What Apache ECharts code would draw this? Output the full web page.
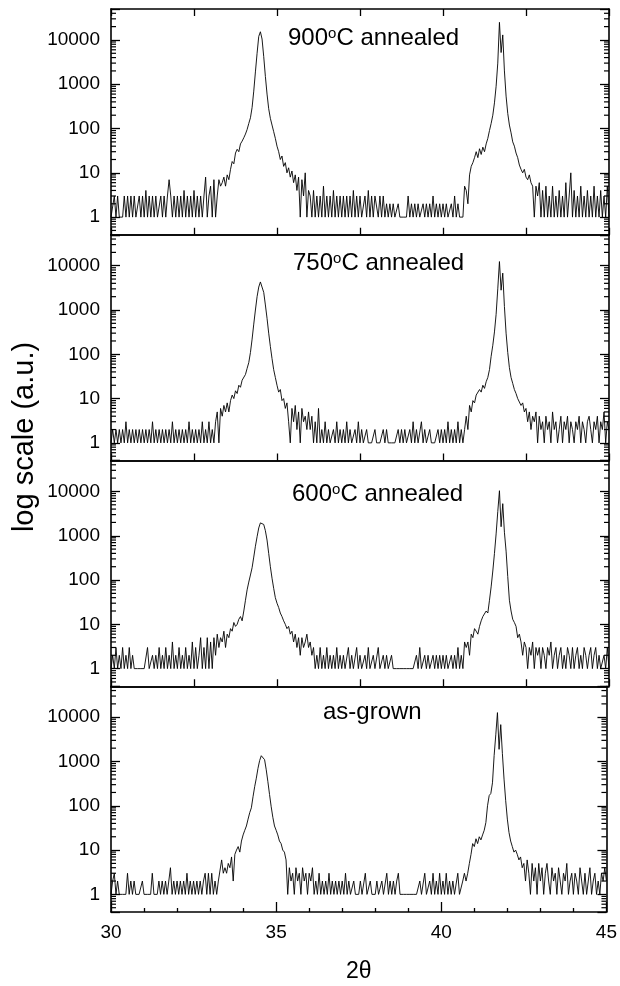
<!DOCTYPE html>
<html>
<head>
<meta charset="utf-8">
<script src="https://cdn.jsdelivr.net/npm/echarts@6/dist/echarts.min.js"></script>
<style>
html, body { margin: 0; padding: 0; background: #fff; }
#chart { width: 620px; height: 986px; }
</style>
</head>
<body>
<div id="chart"></div>
<script>
// 2theta scan: 30 -> 45 deg, one reading every 0.05 deg (301 points)
var thetaStart = 30, thetaStep = 0.05, thetaCount = 301;

// panel labels, top to bottom
var panelNames = ['900{s|o}C annealed', '750{s|o}C annealed', '600{s|o}C annealed', 'as-grown'];

// log minor tick values (between the decades)
var minorTickValues = [0.5, 0.6, 0.7, 0.8, 0.9,
  2, 3, 4, 5, 6, 7, 8, 9,
  20, 30, 40, 50, 60, 70, 80, 90,
  200, 300, 400, 500, 600, 700, 800, 900,
  2000, 3000, 4000, 5000, 6000, 7000, 8000, 9000,
  20000, 30000, 40000];

// counts, one row per 1 deg of 2theta
var counts900 = [
  1,1,3,1,3,1,1,1,3,1,3,1,3,1,3,1,1,3,1,3,
  1,4,1,3,1,3,1,3,1,1,3,1,3,1,3,7,3,1,3,1,
  3,1,3,1,4,1,3,1,3,1,4,1,3,1,3,1,3,8,1,3,
  5,1,7,1,3,7,5,6,8,5,9,7,12,18,16,28,34,30,45,52,
  62,75,95,130,175,300,700,1900,5000,12000,15300,10500,4200,1500,600,280,170,120,85,60,
  40,30,20,24,14,17,10,13,8,11,6,9,4,8,1,7,3,10,1,4,
  3,1,4,1,3,1,3,1,5,1,3,1,3,1,4,1,3,1,3,1,
  3,1,3,1,3,1,4,1,3,1,3,1,1,3,1,4,1,3,1,3,
  3,1,3,1,3,1,2,1,2,1,2,1,1,2,1,1,1,1,1,3,
  1,2,1,2,1,2,1,1,2,1,2,1,2,1,3,1,2,1,2,1,
  2,1,2,1,1,2,1,3,1,2,1,1,1,5,4,2,9,14,17,22,
  30,22,35,26,38,30,45,60,90,130,200,380,900,3000,25000,5200,13000,2000,540,220,
  120,80,50,40,28,22,15,12,10,12,8,7,9,6,5,1,5,3,6,1,
  4,1,5,1,3,1,5,1,3,1,4,1,3,1,6,1,3,10,1,4,
  1,3,1,5,1,3,1,4,1,3,1,5,1,3,1,4,1,3,1,5,
  1
];
var counts750 = [
  1,2,1,2,1,2,1,2,1,3,1,2,1,2,1,2,1,2,1,2,
  1,2,1,2,1,3,1,2,1,2,1,2,1,2,1,2,1,3,1,2,
  1,2,1,2,1,2,1,3,1,2,1,2,1,2,1,3,1,2,1,3,
  1,2,1,3,5,1,6,4,7,5,8,5,9,12,10,15,13,20,18,26,
  28,35,48,65,110,220,480,1000,2000,3300,4300,3900,2500,1300,650,300,150,80,45,30,
  20,14,16,9,10,6,8,3,1,6,3,7,2,5,1,6,3,4,2,5,
  2,4,1,3,1,6,1,2,1,3,1,2,1,1,2,1,3,1,2,1,
  2,1,3,1,2,1,1,2,1,3,1,2,1,1,2,1,1,1,1,2,
  1,1,1,1,2,1,2,1,1,1,1,1,1,2,1,2,1,2,1,1,
  2,1,3,1,2,1,1,3,1,2,1,1,2,1,1,1,1,2,1,2,
  1,2,1,3,1,2,1,2,1,3,1,2,1,2,4,2,7,5,9,8,
  12,11,16,14,20,17,24,30,45,90,160,320,800,3000,12400,2800,6800,1200,300,110,
  50,30,22,16,13,10,11,7,8,5,6,3,5,2,4,3,5,1,4,2,
  3,1,4,2,3,1,5,2,3,1,2,4,1,3,2,4,1,3,2,1,
  3,2,4,1,3,2,1,3,4,2,1,3,2,4,1,3,2,5,1,3,
  2
];
var counts600 = [
  1,2,1,3,1,2,1,3,1,2,1,3,1,2,1,1,1,1,1,1,
  1,1,3,1,1,2,1,2,1,3,1,2,1,3,1,2,1,4,1,2,
  1,3,1,2,1,3,1,2,1,4,1,3,1,2,5,1,3,1,5,1,
  4,1,5,2,6,3,5,4,7,3,6,5,8,7,11,9,10,13,15,12,
  20,35,60,90,130,190,330,580,950,1500,1950,2150,1800,1300,800,400,200,110,65,40,
  30,24,18,15,12,10,8,9,6,7,4,6,3,5,2,5,3,4,6,3,
  4,2,3,1,2,1,3,1,2,1,3,1,2,1,2,1,3,1,2,1,
  2,1,1,3,1,2,1,1,3,1,2,1,1,2,1,3,1,1,2,1,
  1,3,1,1,2,1,2,1,1,2,1,1,1,1,1,1,1,1,1,1,
  1,1,1,1,2,1,3,1,1,2,1,2,1,1,2,1,2,1,2,1,
  2,1,2,1,1,2,1,2,1,3,1,2,1,4,3,4,2,6,5,8,
  7,6,9,12,15,14,20,18,35,70,160,400,1100,3500,10400,1600,5300,1200,450,120,
  35,20,13,11,9,5,6,4,2,4,3,1,3,2,4,1,3,2,3,1,
  3,2,1,3,2,4,1,2,3,1,2,3,1,2,1,3,2,1,3,1,
  2,3,1,2,1,3,2,1,2,3,1,2,3,1,2,1,1,2,1,3,
  1
];
var countsGrown = [
  1,2,3,1,2,1,1,1,1,1,3,1,2,1,2,1,1,1,1,2,
  1,1,1,1,1,3,1,1,1,2,1,2,1,2,1,1,4,1,2,1,
  2,1,2,1,2,1,3,1,2,1,2,1,2,1,2,1,2,3,1,3,
  1,3,1,2,1,2,2,6,3,4,3,5,4,7,2,8,10,12,9,16,
  22,28,35,50,70,90,160,270,420,700,1050,1350,1400,1100,650,350,180,95,55,35,
  28,22,16,14,10,9,6,1,4,2,3,1,4,2,3,1,4,2,3,1,
  3,2,4,1,2,1,3,1,2,1,2,1,3,1,2,1,2,1,2,1,
  2,1,3,1,2,1,1,2,1,1,1,2,1,1,3,1,1,2,1,1,
  1,2,1,1,2,1,1,3,1,2,1,2,1,2,3,1,1,1,1,1,
  1,1,1,1,1,1,1,2,1,1,3,1,1,2,1,3,1,2,1,3,
  1,2,1,3,1,2,1,2,1,1,3,1,1,2,3,2,3,5,8,14,
  12,18,14,20,17,22,28,42,100,170,190,330,1360,4000,12700,1880,6800,1500,400,130,
  50,25,16,12,9,10,8,6,7,4,5,2,6,3,1,5,2,4,1,5,
  2,4,1,3,5,2,1,4,2,3,1,4,2,1,3,2,5,1,2,3,
  1,3,2,1,4,2,1,3,1,2,4,1,2,3,1,2,1,3,2,4,
  2
];

var panels = [counts900, counts750, counts600, countsGrown];

var theta = [];
for (var k = 0; k < thetaCount; k++) {
  theta.push(+(thetaStart + k * thetaStep).toFixed(2));
}

var FONT = 'Liberation Sans, Arial, sans-serif';
var panelTop = 9, panelH = 225.75;
var titleLeft = [288, 293, 292, 323];
var titleTop = [26, 251, 482, 700];

var grids = [], xAxes = [], yAxes = [], series = [], titles = [];
var lineCol = { color: '#000', width: 1.6 };
var tickCol = { color: '#000', width: 1.3 };

panels.forEach(function (counts, i) {
  var last = i === panels.length - 1;
  grids.push({ left: 111, right: 11, top: panelTop + i * panelH, height: panelH });

  // bottom axis
  xAxes.push({
    gridIndex: i, type: 'value', min: 30, max: 45, interval: last ? 5 : 2.5,
    axisLine: { show: true, onZero: false, lineStyle: lineCol },
    axisTick: { show: true, inside: true, length: last ? 10 : 7, lineStyle: tickCol },
    minorTick: { show: last, splitNumber: 5, length: 4, lineStyle: tickCol },
    axisLabel: { show: last, color: '#000', fontSize: 19, fontFamily: FONT, margin: 11 },
    splitLine: { show: false },
    name: last ? '2\u03b8' : '', nameLocation: 'middle', nameGap: 48,
    nameTextStyle: { color: '#000', fontSize: 23, fontFamily: FONT }
  });
  // top axis (frame)
  xAxes.push({
    gridIndex: i, type: 'value', position: 'top', min: 30, max: 45, interval: 2.5,
    axisLine: { show: true, onZero: false, lineStyle: lineCol },
    axisTick: { show: i === 0, inside: true, length: 7, lineStyle: tickCol },
    axisLabel: { show: false },
    splitLine: { show: false }
  });

  // left log axis
  yAxes.push({
    gridIndex: i, type: 'log', logBase: 10, min: 0.4, max: 50000,
    axisLine: { show: true, lineStyle: lineCol },
    axisTick: { show: true, inside: true, length: 9, lineStyle: tickCol },
    axisLabel: {
      color: '#000', fontSize: 19, fontFamily: FONT, margin: 11,
      formatter: function (v) {
        var l = Math.log10(v);
        return Math.abs(l - Math.round(l)) < 1e-6 ? String(Math.round(v)) : '';
      }
    },
    splitLine: { show: false }
  });
  // right log axis (frame)
  yAxes.push({
    gridIndex: i, type: 'log', logBase: 10, min: 0.4, max: 50000, position: 'right',
    axisLine: { show: true, lineStyle: lineCol },
    axisTick: { show: true, inside: true, length: 9, lineStyle: tickCol },
    axisLabel: { show: false },
    splitLine: { show: false }
  });

  series.push({
    type: 'line', xAxisIndex: 2 * i, yAxisIndex: 2 * i,
    data: theta.map(function (t, j) { return [t, counts[j]]; }),
    showSymbol: false, symbol: 'none', animation: false,
    lineStyle: { color: '#000', width: 0.9 }
  });

  // log minor ticks on both sides
  series.push({
    type: 'custom', xAxisIndex: 2 * i, yAxisIndex: 2 * i, silent: true, animation: false,
    data: minorTickValues.map(function (v) { return [30, v]; }),
    renderItem: function (params, api) {
      var cs = params.coordSys;
      var y = api.coord([api.value(0), api.value(1)])[1];
      var st = { stroke: '#000', lineWidth: 1.2 };
      return {
        type: 'group', children: [
          { type: 'line', shape: { x1: cs.x, y1: y, x2: cs.x + 5, y2: y }, style: st },
          { type: 'line', shape: { x1: cs.x + cs.width - 5, y1: y, x2: cs.x + cs.width, y2: y }, style: st }
        ]
      };
    }
  });

  titles.push({
    text: panelNames[i], left: titleLeft[i], top: titleTop[i], padding: 0,
    textStyle: {
      color: '#000', fontSize: 24, fontWeight: 'normal', fontFamily: FONT,
      rich: { s: { fontSize: 15, fontFamily: FONT, color: '#000', verticalAlign: 'top', lineHeight: 15 } }
    }
  });
});

var chart = echarts.init(document.getElementById('chart'));
chart.setOption({
  animation: false,
  backgroundColor: '#fff',
  title: titles,
  grid: grids,
  xAxis: xAxes,
  yAxis: yAxes,
  series: series,
  graphic: [{
    type: 'text', x: 25, y: 437, rotation: Math.PI / 2,
    style: {
      text: 'log scale (a.u.)', fill: '#000', fontSize: 29, fontFamily: FONT,
      textAlign: 'center', textVerticalAlign: 'middle'
    }
  }]
});
</script>
</body>
</html>
